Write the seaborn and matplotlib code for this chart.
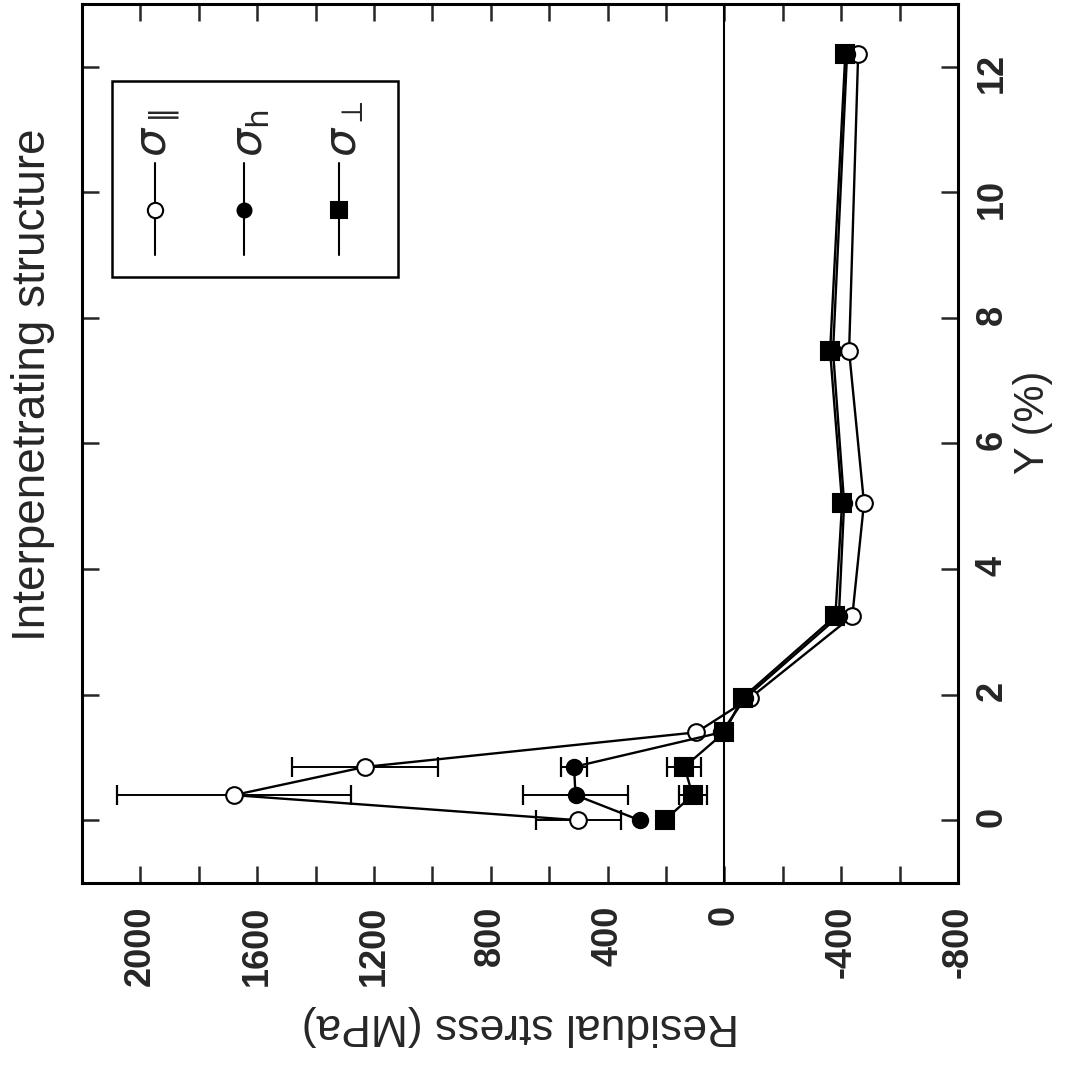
import numpy as np
import pandas as pd
import matplotlib
matplotlib.use("Agg")
import matplotlib.pyplot as plt
import seaborn as sns
from matplotlib.ticker import MultipleLocator
from matplotlib.patches import Rectangle
from matplotlib.lines import Line2D

# Data read from the (rotated) figure: Y (%) and residual stress (MPa)
y_pct = [0, 0.4, 0.85, 1.4, 1.95, 3.25, 5.05, 7.47, 12.2]

sigma_par = [500, 1680, 1230, 96, -89, -438, -478, -427, -458]
sigma_par_err = [145, 400, 250, 0, 0, 0, 0, 0, 0]

sigma_h = [290, 510, 515, 10, -72, -392, -410, -372, -420]
sigma_h_err = [0, 180, 43, 0, 0, 0, 0, 0, 0]

sigma_perp = [205, 109, 137, 0, -62, -380, -403, -362, -414]
sigma_perp_err = [0, 48, 58, 0, 0, 0, 0, 0, 0]

labels = [r"$\sigma_{\parallel}$", r"$\sigma_{\mathrm{h}}$", r"$\sigma_{\perp}$"]

sns.set_theme(style="ticks")
plt.rcParams["font.family"] = ["Liberation Sans", "DejaVu Sans"]
plt.rcParams["axes.unicode_minus"] = False
plt.rcParams["mathtext.fontset"] = "dejavusans"

fig = plt.figure(figsize=(10.71, 10.68), dpi=100)
ax = fig.add_axes([0.0766, 0.1732, 0.8179, 0.8231])

series = [
    (sigma_par, sigma_par_err, "o", "white", 12),
    (sigma_h, sigma_h_err, "o", "black", 11),
    (sigma_perp, sigma_perp_err, "s", "black", 13),
]

# zero stress line
ax.axvline(0, color="black", lw=1.5, zorder=1)

for vals, errs, mk, fc, ms in series:
    df = pd.DataFrame({"stress": vals, "y": y_pct, "err": errs})
    sub = df[df["err"] > 0]
    ax.errorbar(sub["stress"], sub["y"], xerr=sub["err"], fmt="none",
                ecolor="black", elinewidth=1.4, capsize=7, capthick=1.6, zorder=2)
    sns.lineplot(data=df, x="stress", y="y", sort=False, estimator=None,
                 color="black", lw=1.7, marker=mk, markersize=ms,
                 markerfacecolor=fc, markeredgecolor="black", markeredgewidth=1.5,
                 ax=ax, zorder=3)

ax.set_xlim(2200, -800)
ax.set_ylim(-1, 13)
ax.xaxis.set_major_locator(MultipleLocator(400))
ax.xaxis.set_minor_locator(MultipleLocator(200))
ax.yaxis.set_major_locator(MultipleLocator(2))

ax.tick_params(which="both", direction="in", length=12, width=1.8,
               top=True, bottom=True, left=True, right=True,
               labelleft=False, labelright=True, labelbottom=True)
ax.tick_params(axis="x", labelrotation=90, pad=16, labelsize=26)
ax.tick_params(axis="y", labelrotation=90, pad=12, labelsize=26)
for t in ax.get_xticklabels() + ax.get_yticklabels():
    t.set_fontweight("bold")

for sp in ax.spines.values():
    sp.set_linewidth(2.2)
    sp.set_color("black")

ax.set_xlabel("Residual stress (MPa)", rotation=180, fontsize=32, labelpad=14)
ax.yaxis.set_label_position("right")
ax.set_ylabel("Y (%)", rotation=90, fontsize=30)
ax.yaxis.set_label_coords(1.063, 0.524)

fig.text(0.031, 0.64, "Interpenetrating structure", rotation=90,
         ha="center", va="center", fontsize=33)

# legend drawn in rotated orientation (vertical handles, labels above)
ax.add_patch(Rectangle((0.034, 0.689), 0.327, 0.223, transform=ax.transAxes,
                       fill=False, lw=1.8, ec="black", zorder=5))
leg_x = [0.083, 0.185, 0.293]
for (vals, errs, mk, fc, ms), lx, lab in zip(series, leg_x, labels):
    ax.add_line(Line2D([lx, lx], [0.714, 0.819], transform=ax.transAxes,
                       color="black", lw=1.5, zorder=5))
    ax.add_line(Line2D([lx], [0.766], transform=ax.transAxes, marker=mk,
                       markersize=ms - 1, markerfacecolor=fc,
                       markeredgecolor="black", markeredgewidth=1.5, zorder=6))
    ax.text(lx + 0.008, 0.826, lab, transform=ax.transAxes, rotation=90,
            ha="center", va="bottom", fontsize=32, zorder=6)

fig.savefig("out.png", dpi=100, facecolor="white")
